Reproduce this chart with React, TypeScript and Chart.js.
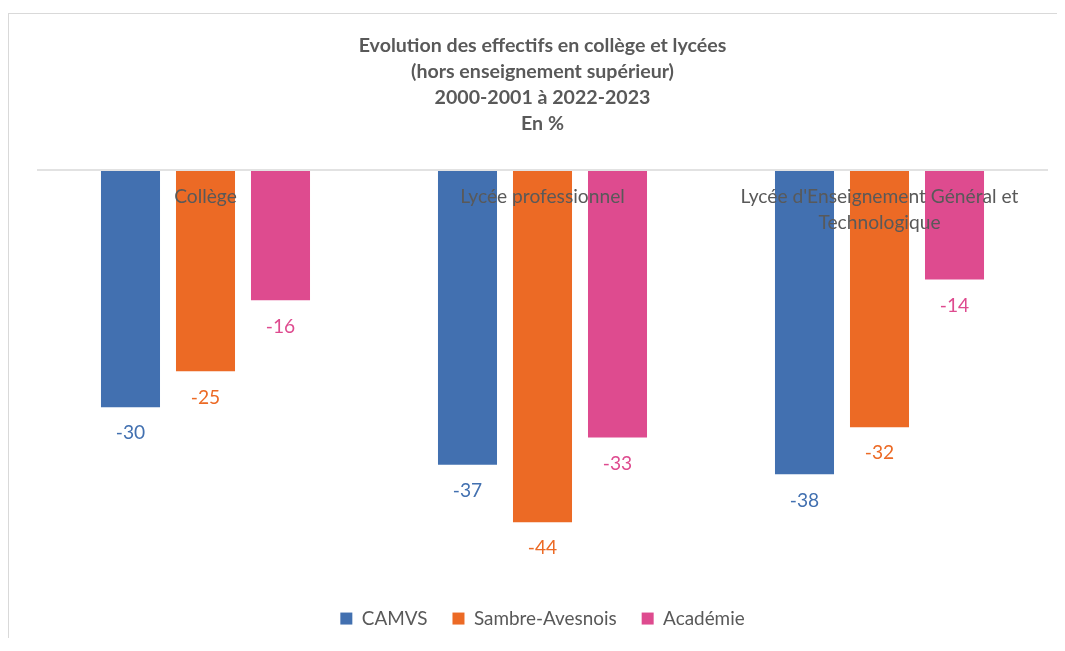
import React, { useEffect, useRef } from "react";
import { Chart, registerables } from "chart.js";

Chart.register(...registerables);

const categories: (string | string[])[] = [
  "Collège",
  "Lycée professionnel",
  ["Lycée d'Enseignement Général et", "Technologique"],
];
const seriesNames = ["CAMVS", "Sambre-Avesnois", "Académie"];
const camvs = [-29.6, -36.8, -38.0];
const sambre = [-25.1, -44.0, -32.1];
const academie = [-16.2, -33.4, -13.6];
const colors = ["#4270B0", "#EC6A25", "#DE4B8F"];
const titleLines = [
  "Evolution des effectifs en collège et lycées",
  "(hors enseignement supérieur)",
  "2000-2001 à 2022-2023",
  "En %",
];

const FONT = "Lato, 'Open Sans', sans-serif";
const GREY = "#595959";

const overlayPlugin = {
  id: "overlay",
  beforeDatasetsDraw(chart: any) {
    const { ctx, chartArea, scales } = chart;
    const y0 = scales.y.getPixelForValue(0);
    ctx.save();
    ctx.strokeStyle = "#d9d9d9";
    ctx.lineWidth = 1.5;
    ctx.beginPath();
    ctx.moveTo(chartArea.left, y0 - 1);
    ctx.lineTo(chartArea.right, y0 - 1);
    ctx.stroke();
    ctx.restore();
  },
  afterDatasetsDraw(chart: any) {
    const { ctx, scales } = chart;
    ctx.save();
    ctx.textAlign = "center";
    ctx.textBaseline = "middle";
    ctx.font = `19.2px ${FONT}`;
    // category labels
    ctx.fillStyle = GREY;
    const y0 = scales.y.getPixelForValue(0);
    chart.data.labels.forEach((lab: any, i: number) => {
      const x = scales.x.getPixelForValue(i);
      const lines = Array.isArray(lab) ? lab : [lab];
      lines.forEach((l: string, k: number) => {
        ctx.fillText(l, x, y0 + 26 + k * 26);
      });
    });
    // data labels
    chart.data.datasets.forEach((ds: any, di: number) => {
      const meta = chart.getDatasetMeta(di);
      ctx.fillStyle = ds.backgroundColor;
      meta.data.forEach((bar: any, i: number) => {
        const v = ds.data[i];
        ctx.fillText(String(Math.round(v)), bar.x, bar.y + 26);
      });
    });
    ctx.restore();
  },
};

export default function App() {
  const ref = useRef<HTMLCanvasElement>(null);
  useEffect(() => {
    if (!ref.current) return;
    const chart = new Chart(ref.current, {
      type: "bar",
      data: {
        labels: categories,
        datasets: [camvs, sambre, academie].map((d, i) => ({
          label: seriesNames[i],
          data: d,
          backgroundColor: colors[i],
          borderWidth: 0,
          categoryPercentage: 0.6677,
          barPercentage: 0.787,
        })),
      },
      options: {
        animation: false,
        responsive: true,
        maintainAspectRatio: false,
        layout: { padding: { left: 28, right: 17, top: 0, bottom: 0 } },
        scales: {
          x: { display: false },
          y: { display: false, min: -51.75, max: 0 },
        },
        plugins: {
          tooltip: { enabled: false },
          title: {
            display: true,
            text: titleLines,
            color: GREY,
            font: { family: FONT, size: 19.6, weight: "bold", lineHeight: 26 / 19.6 },
            padding: { top: 19, bottom: 34 },
          },
          legend: {
            position: "bottom",
            labels: {
              color: GREY,
              font: { family: FONT, size: 18.9 },
              boxWidth: 12,
              boxHeight: 12,
              padding: 25,
            },
          },
        },
      },
      plugins: [overlayPlugin],
    });
    return () => chart.destroy();
  }, []);
  return (
    <div
      style={{
        marginTop: 5,
        width: 1057,
        height: 625,
        borderLeft: "1px solid #d9d9d9",
        borderTop: "1px solid #d9d9d9",
        position: "relative",
        boxSizing: "border-box",
      }}
    >
      <canvas ref={ref} />
    </div>
  );
}
